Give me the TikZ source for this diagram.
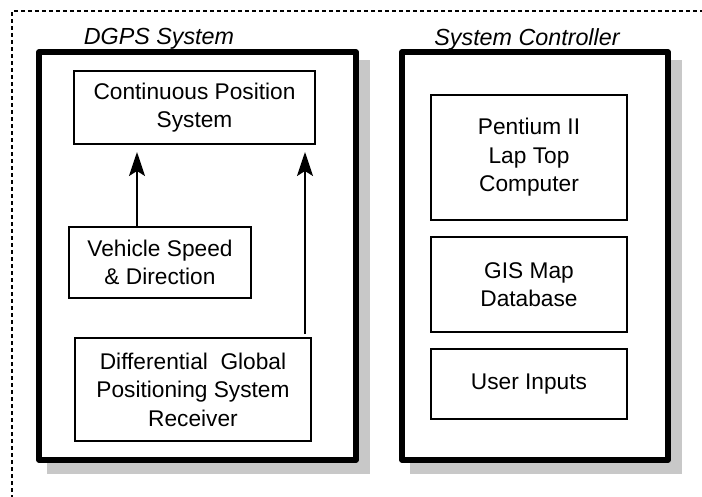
\documentclass[tikz,border=0pt]{standalone}
\usepackage{fontspec}
\setmainfont{Liberation Sans}
\usetikzlibrary{arrows.meta,backgrounds}
\definecolor{shadowgray}{RGB}{200,200,200}
\tikzset{
  unitbox/.style={draw, line width=2pt, align=center, inner sep=0pt,
    font=\fontsize{22.7pt}{28.5pt}\selectfont},
  groupbox/.style={draw, fill=white, line width=5.5pt, line join=round, inner sep=0pt},
  grouptitle/.style={font=\fontsize{23.3pt}{28pt}\selectfont\itshape},
  flow/.style={line width=2pt, -{Stealth[length=24pt,width=16pt,inset=5pt]}},
  frame/.style={line width=1.3pt, dash pattern=on 4pt off 3pt}
}
\begin{document}
\begin{tikzpicture}[x=1pt,y=-1pt]
  \useasboundingbox (0,0) rectangle (702,497);
  \clip (0,0) rectangle (702,497);
  \draw[frame] (12,520) |- (720,11);

  % the two groups
  \node[groupbox, minimum width=317pt, minimum height=408pt] (dgps) at (197.5,256) {};
  \node[groupbox, minimum width=266pt, minimum height=408pt] (ctrl) at (535,256) {};
  \begin{scope}[on background layer]
    \fill[shadowgray] ([shift={(11,11)}]dgps.north west) rectangle ([shift={(11,11)}]dgps.south east);
    \fill[shadowgray] ([shift={(11,11)}]ctrl.north west) rectangle ([shift={(11,11)}]ctrl.south east);
  \end{scope}
  \node[grouptitle] (dgpstitle) at (159,39) {DGPS System};
  \node[grouptitle] (ctrltitle) at (527,39) {System Controller};

  % DGPS units
  \node[unitbox, minimum width=241pt, minimum height=73pt] (cps) at (194.5,107.5)
    {Continuous Position\\System};
  \node[unitbox, minimum width=182pt, minimum height=71pt] (speed) at (160,262.5)
    {Vehicle Speed\\\& Direction};
  \node[unitbox, minimum width=236pt, minimum height=103pt] (rx) at (193,389.5)
    {Differential\ \ Global\\Positioning System\\Receiver};

  % controller units
  \node[unitbox, minimum width=196pt, minimum height=125pt] (laptop) at (529,157.5)
    {Pentium II\\Lap Top\\Computer};
  \node[unitbox, minimum width=196pt, minimum height=95pt] (gis) at (529,284.5)
    {GIS Map\\Database};
  \node[unitbox, minimum width=196pt, minimum height=70pt] (user) at (529,384)
    {User Inputs};

  % arrows
  \coordinate (speedout) at ([xshift=-23pt]speed.north);
  \coordinate (rxout) at ([xshift=-7pt]rx.north east);
  \draw[flow, shorten >=7pt] (speedout) -- (speedout |- cps.south);
  \draw[flow, shorten <=3pt, shorten >=7pt] (rxout) -- (rxout |- cps.south);
\end{tikzpicture}
\end{document}
